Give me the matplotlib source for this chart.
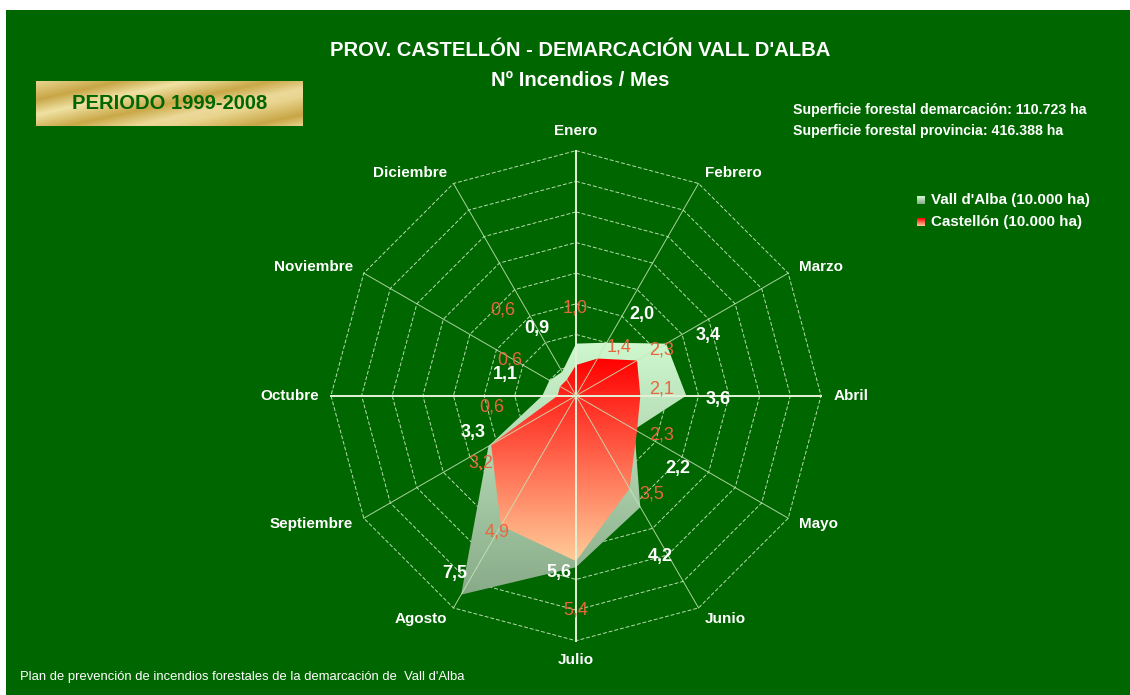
import numpy as np
import matplotlib
matplotlib.use('Agg')
import matplotlib.pyplot as plt
from matplotlib.patches import Polygon, Rectangle
from matplotlib.colors import LinearSegmentedColormap

# datos: nº medio de incendios por mes, periodo 1999-2008
months = ['Enero', 'Febrero', 'Marzo', 'Abril', 'Mayo', 'Junio',
          'Julio', 'Agosto', 'Septiembre', 'Octubre', 'Noviembre', 'Diciembre']
vall = [1.7, 2.0, 3.4, 3.6, 2.2, 4.2, 5.6, 7.5, 3.3, 1.1, 1.0, 0.9]
cast = [1.0, 1.4, 2.3, 2.1, 2.3, 3.5, 5.4, 4.9, 3.2, 0.6, 0.6, 0.6]
vall_label_on = [False, True, True, True, True, True, True, True, True, True, False, True]

# posiciones de las etiquetas (angulo en grados, radio en unidades)
vall_lab_ang = [0, 39.1, 65.3, 91.7, 125.4, 152.4, 185.4, 214.2, 250.2, 286.3, 300, 330.1]
vall_lab_r = [2.0, 3.40, 4.74, 4.65, 4.10, 5.93, 5.80, 7.03, 3.56, 2.41, 1.3, 2.54]
cast_lab_ang = [359.3, 41.5, 61.9, 85.7, 114.6, 142.4, 180.0, 210.1, 234.9, 262.2, 298.4, 319.5]
cast_lab_r = [2.85, 2.13, 3.17, 2.81, 3.08, 4.05, 7.0, 5.13, 3.80, 2.78, 2.45, 3.68]

BG = '#006600'
W, H = 1130, 695
FONT = ['Liberation Sans', 'DejaVu Sans']


def to_xy(ang, r):
    t = np.radians(ang)
    return np.asarray(r) * np.sin(t), np.asarray(r) * np.cos(t)


def fmt(v):
    return ('%.1f' % v).replace('.', ',')


def grad_fill(ax, xs, ys, c_top, c_bot, z):
    poly = Polygon(np.column_stack([xs, ys]), closed=True, facecolor='none', edgecolor='none')
    ax.add_patch(poly)
    cmap = LinearSegmentedColormap.from_list('g', [c_bot, c_top])
    grad = np.linspace(0, 1, 256).reshape(-1, 1)
    im = ax.imshow(grad, extent=(min(xs), max(xs), min(ys), max(ys)), origin='lower',
                   cmap=cmap, aspect='auto', zorder=z, interpolation='bilinear')
    im.set_clip_path(poly)


fig = plt.figure(figsize=(W / 100, H / 100), dpi=100)
fig.patch.set_facecolor('white')
fig.patches.append(Rectangle((6 / W, 0), 1, 1 - 10 / H, transform=fig.transFigure,
                             facecolor=BG, edgecolor='none', zorder=-10))

# ejes del radar: centro (576, 395.7) px, 30.63 px por unidad
cx, cy, ppu, lim = 576, 395.7, 30.63, 10
size = 2 * lim * ppu
ax = fig.add_axes([(cx - size / 2) / W, (H - cy - size / 2) / H, size / W, size / H])
ax.axis('off')

angles = np.arange(12) * 30.0
ring_ang = np.append(angles, 0)
for k in range(1, 9):
    x, y = to_xy(ring_ang, k)
    ax.plot(x, y, color='#b8dcb0', lw=0.7, ls=(0, (4, 2)), zorder=1)

xv, yv = to_xy(angles, vall)
grad_fill(ax, xv, yv, '#cff8cf', '#88aa88', 2)
xc, yc = to_xy(angles, cast)
grad_fill(ax, xc, yc, '#ff0000', '#ffcc99', 3)

for a in angles:
    x, y = to_xy(a, 8)
    main = a % 90 == 0
    ax.plot([0, x], [0, y], color='#e4f2d8' if main else '#c8e6b8',
            lw=1.4 if main else 0.7, alpha=1 if main else 0.85, zorder=4)

for m, a in zip(months, angles):
    x, y = to_xy(a, 8.4)
    s = np.sin(np.radians(a))
    c = np.cos(np.radians(a))
    ha = 'center' if abs(s) < 0.01 else ('left' if s > 0 else 'right')
    va = 'center' if abs(c) < 0.99 else ('bottom' if c > 0 else 'top')
    ax.text(x, y, m, ha=ha, va=va, color='white', fontsize=11, fontweight='bold',
            family=FONT, zorder=6, clip_on=False)

for v, on, a, r in zip(vall, vall_label_on, vall_lab_ang, vall_lab_r):
    if on:
        x, y = to_xy(a, r)
        ax.text(x, y, fmt(v), ha='center', va='center', color='white', fontsize=13,
                fontweight='bold', family=FONT, zorder=6)
for v, a, r in zip(cast, cast_lab_ang, cast_lab_r):
    x, y = to_xy(a, r)
    ax.text(x, y, fmt(v), ha='center', va='center', color='#e8663e', fontsize=13,
            family=FONT, zorder=6)

ax.set_xlim(-lim, lim)
ax.set_ylim(-lim, lim)

# titulos
fig.text(580 / W, 1 - 50 / H, "PROV. CASTELLÓN - DEMARCACIÓN VALL D'ALBA", ha='center', va='center',
         color='white', fontsize=14.6, fontweight='bold', family=FONT)
fig.text(580 / W, 1 - 80 / H, 'Nº Incendios / Mes', ha='center', va='center',
         color='white', fontsize=14.6, fontweight='bold', family=FONT)

fig.text(793 / W, 1 - 110 / H, 'Superficie forestal demarcación: 110.723 ha', ha='left', va='center',
         color='white', fontsize=10.2, fontweight='bold', family=FONT)
fig.text(793 / W, 1 - 131 / H, 'Superficie forestal provincia: 416.388 ha', ha='left', va='center',
         color='white', fontsize=10.2, fontweight='bold', family=FONT)

# leyenda
grad = np.linspace(0, 1, 32).reshape(-1, 1)
for yy, ctop, cbot, lab in [(200, '#cff8cf', '#88aa88', "Vall d'Alba (10.000 ha)"),
                            (222, '#ff0000', '#ffcc99', 'Castellón (10.000 ha)')]:
    lax = fig.add_axes([917 / W, 1 - (yy + 4) / H, 8 / W, 8 / H])
    lax.imshow(grad, cmap=LinearSegmentedColormap.from_list('l', [ctop, cbot]), aspect='auto')
    lax.axis('off')
    fig.text(931 / W, 1 - yy / H, lab, ha='left', va='center', color='white',
             fontsize=10.9, fontweight='bold', family=FONT)

# recuadro del periodo
bax = fig.add_axes([36 / W, 1 - 126 / H, 267 / W, 45 / H])
gx, gy = np.meshgrid(np.linspace(0, 1, 300), np.linspace(0, 1, 60))
tt = (gx * 0.8 + gy * 0.6) % 1
gold = LinearSegmentedColormap.from_list('gold', [(0, '#e9d58f'), (0.25, '#c8a646'), (0.45, '#f0e2a4'),
                                                  (0.7, '#c9a847'), (0.9, '#ecd99a'), (1, '#e9d58f')])
bax.imshow(tt, cmap=gold, aspect='auto', extent=(0, 1, 0, 1))
bax.text(0.5, 0.5, 'PERIODO 1999-2008', ha='center', va='center', color='#006600',
         fontsize=14.5, fontweight='bold', family=FONT, transform=bax.transAxes)
bax.axis('off')

fig.text(20 / W, 1 - 677 / H, "Plan de prevención de incendios forestales de la demarcación de  Vall d'Alba",
         ha='left', va='center', color='white', fontsize=9.4, family=FONT)

fig.savefig('out.png', dpi=100, facecolor=fig.get_facecolor())
